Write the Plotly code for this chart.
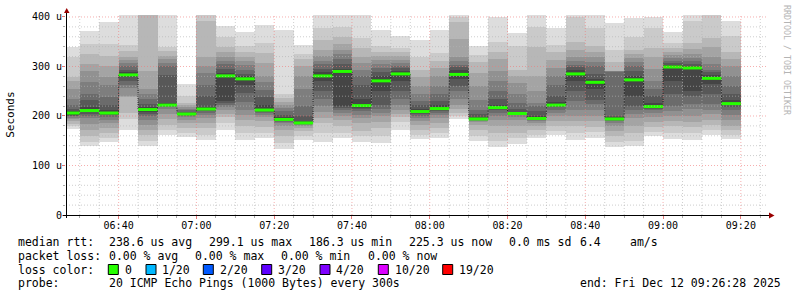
import pandas as pd
import plotly.graph_objects as go

# ---------------- data ----------------
col_start = ["06:25", "06:30", "06:35", "06:40", "06:45", "06:50", "06:55",
             "07:00", "07:05", "07:10", "07:15", "07:20", "07:25", "07:30",
             "07:35", "07:40", "07:45", "07:50", "07:55", "08:00", "08:05",
             "08:10", "08:15", "08:20", "08:25", "08:30", "08:35", "08:40",
             "08:45", "08:50", "08:55", "09:00", "09:05", "09:10", "09:15"]

median_us = [206, 211, 206, 283, 213, 222, 204, 214, 281, 275, 212, 193, 186, 281,
             290, 221, 271, 285, 209, 215, 284, 194, 217, 205, 195, 222, 285, 268,
             194, 273, 219, 299, 297, 276, 225]

# 20 sorted ping RTTs (microseconds) per 5-minute step
pings_us = [
    [174, 180, 184, 190, 193, 196, 199, 201, 203, 205, 207, 210, 214, 222, 235, 255, 270, 278, 320, 339],
    [140, 148, 160, 172, 183, 195, 201, 205, 208, 210, 212, 218, 232, 245, 268, 290, 305, 325, 345, 371],
    [147, 155, 165, 175, 185, 192, 198, 202, 204, 205, 207, 212, 222, 238, 262, 278, 300, 322, 345, 389],
    [171, 193, 206, 238, 240, 257, 262, 270, 278, 281, 285, 288, 293, 300, 307, 313, 320, 331, 344, 420],
    [139, 150, 162, 172, 182, 192, 200, 205, 209, 212, 214, 218, 225, 235, 245, 255, 290, 420, 450, 500],
    [162, 172, 182, 193, 205, 215, 218, 220, 221, 222, 223, 226, 283, 300, 307, 315, 322, 332, 340, 410],
    [157, 165, 175, 185, 192, 197, 200, 202, 203, 204, 205, 207, 209, 212, 215, 218, 222, 226, 240, 265],
    [151, 162, 175, 185, 195, 202, 207, 210, 212, 213, 215, 219, 240, 263, 287, 300, 320, 391, 404, 420],
    [172, 185, 198, 205, 213, 218, 222, 226, 230, 279, 283, 286, 295, 305, 312, 320, 330, 340, 360, 382],
    [151, 165, 180, 192, 203, 213, 229, 246, 262, 273, 277, 280, 285, 293, 304, 312, 320, 330, 341, 369],
    [155, 165, 178, 190, 198, 203, 207, 209, 211, 212, 213, 223, 238, 253, 268, 280, 307, 327, 347, 384],
    [133, 145, 160, 172, 180, 185, 188, 190, 191, 192, 194, 197, 203, 210, 216, 222, 229, 236, 245, 374],
    [151, 160, 170, 176, 180, 182, 184, 185, 185.5, 186, 187, 190, 200, 220, 255, 280, 300, 315, 325, 343],
    [147, 165, 185, 195, 208, 220, 235, 250, 270, 280, 284, 288, 295, 305, 312, 322, 334, 354, 378, 410],
    [155, 165, 180, 192, 200, 207, 213, 216, 220, 288, 291, 295, 305, 315, 325, 334, 345, 360, 380, 410],
    [147, 160, 170, 185, 195, 203, 210, 214, 217, 220, 222, 235, 263, 280, 293, 308, 320, 337, 357, 410],
    [145, 160, 175, 188, 200, 206, 215, 223, 250, 268, 274, 280, 288, 297, 305, 314, 322, 330, 341, 374],
    [172, 188, 198, 205, 213, 222, 235, 250, 270, 283, 287, 291, 297, 302, 308, 314, 322, 330, 337, 362],
    [153, 162, 172, 182, 190, 196, 201, 204, 207, 209, 210, 215, 222, 230, 245, 260, 278, 293, 320, 354],
    [155, 165, 175, 185, 195, 202, 207, 210, 213, 214, 216, 222, 230, 245, 260, 280, 297, 312, 327, 374],
    [194, 200, 206, 215, 223, 235, 250, 260, 275, 283, 287, 292, 298, 304, 312, 320, 355, 390, 400, 410],
    [149, 160, 172, 182, 187, 190, 192, 193, 193.5, 194, 195, 198, 205, 213, 233, 260, 287, 310, 324, 341],
    [138, 150, 165, 180, 192, 200, 207, 212, 215, 216, 218, 223, 235, 250, 270, 290, 315, 330, 350, 400],
    [144, 155, 165, 180, 192, 198, 202, 204, 204.5, 205, 206, 209, 215, 226, 245, 266, 280, 293, 341, 367],
    [155, 162, 172, 180, 186, 190, 192, 193, 194, 195, 196, 200, 210, 220, 226, 250, 280, 340, 380, 410],
    [162, 170, 180, 190, 200, 207, 213, 218, 221, 222, 224, 228, 240, 262, 280, 297, 314, 330, 344, 378],
    [152, 165, 180, 190, 200, 213, 230, 250, 270, 283, 287, 292, 298, 304, 312, 320, 334, 350, 400, 410],
    [155, 168, 178, 190, 200, 213, 225, 233, 255, 266, 270, 275, 285, 300, 310, 320, 330, 341, 378, 410],
    [137, 148, 160, 170, 180, 186, 190, 192, 193, 194, 195, 197, 200, 289, 290, 290.5, 291, 310, 334, 388],
    [139, 150, 165, 180, 195, 205, 213, 220, 240, 271, 275, 280, 290, 300, 310, 317, 325, 334, 360, 398],
    [159, 168, 178, 188, 198, 206, 212, 215, 217, 218, 220, 226, 240, 255, 270, 295, 320, 337, 378, 400],
    [153, 165, 180, 190, 200, 210, 220, 245, 270, 297, 301, 304, 308, 312, 318, 324, 330, 338, 347, 369],
    [152, 165, 178, 188, 200, 215, 225, 240, 250, 295, 299, 302, 306, 312, 318, 325, 335, 347, 391, 410],
    [162, 172, 182, 192, 205, 213, 225, 245, 265, 274, 277, 282, 288, 293, 305, 320, 340, 357, 410, 420],
    [153, 162, 172, 180, 192, 203, 212, 218, 222, 224, 226, 232, 245, 260, 280, 300, 315, 330, 361, 391],
]

y_tick_vals = [0, 100, 200, 300, 400]
y_tick_text = ["0", "100 u", "200 u", "300 u", "400 u"]

stats_rtt = [("median rtt:", 16), ("238.6 us avg", 107), ("299.1 us max", 207),
             ("186.3 us min", 307), ("225.3 us now", 407), ("0.0 ms sd", 507),
             ("6.4", 578), ("am/s", 628)]
stats_loss = [("packet loss:", 16), ("0.00 % avg", 107), ("0.00 % max", 193.3),
              ("0.00 % min", 279.3), ("0.00 % now", 366)]
loss_labels = ["0", "1/20", "2/20", "3/20", "4/20", "10/20", "19/20"]
loss_colors = ["#26ff00", "#00b8ff", "#0059ff", "#5e00ff", "#7e00ff", "#dd00ff", "#ff0000"]
loss_box_x = [108.3, 146, 203.3, 261.7, 320, 378.3, 442.7]

DAY = "2025-12-12 "
t_start = pd.Timestamp(DAY + "06:26:28")
t_end = pd.Timestamp(DAY + "09:26:28")
STEP = pd.Timedelta(minutes=5)

# ---------------- geometry helpers ----------------
W, H = 797, 297
L, R, T, B = 66, 31, 15, 82
PW, PH = W - L - R, H - T - B
Y_MAX = 404
FONT = "DejaVu Sans Mono"
MAJOR_GRID = "rgba(240,120,120,0.6)"
MINOR_GRID = "rgba(180,180,180,0.65)"


def px(x):
    return (x - L) / PW


def py(y):
    return (H - B - y) / PH


starts = [pd.Timestamp(DAY + s) for s in col_start]
mids = [s + STEP / 2 for s in starts]

fig = go.Figure()

# smoke layers (outer/lightest first, inner/darkest last)
half = 10
for i in range(half):
    g = int(round((half - 1 - i) * 190 / half + 50))
    color = f"rgb({g},{g},{g})"
    base = [p[i] for p in pings_us]
    height = [p[19 - i] - p[i] for p in pings_us]
    fig.add_trace(go.Bar(x=mids, y=height, base=base, width=STEP.total_seconds() * 1000,
                         marker=dict(color=color, line=dict(width=0)),
                         hoverinfo="skip", showlegend=False))

# dark median step line
step_x = starts + [starts[-1] + STEP]
step_y = median_us + [median_us[-1]]
fig.add_trace(go.Scatter(x=step_x, y=step_y, mode="lines", line_shape="hv",
                         line=dict(color="#202020", width=1, dash="1px,1px"),
                         hoverinfo="skip", showlegend=False))

# green median segments (0 loss colour)
gx, gy = [], []
for s, m in zip(starts, median_us):
    gx += [s, s + STEP, None]
    gy += [m, m, None]
fig.add_trace(go.Scatter(x=gx, y=gy, mode="lines",
                         line=dict(color=loss_colors[0], width=3),
                         hoverinfo="skip", showlegend=False))

shapes = []
# grid (drawn above the smoke like rrdtool)
t = pd.Timestamp(DAY + "06:30")
while t < t_end:
    major = (t.minute % 20 == 0)
    shapes.append(dict(type="line", xref="x", yref="y", x0=t, x1=t, y0=0, y1=Y_MAX,
                       layer="above",
                       line=dict(color=MAJOR_GRID if major else MINOR_GRID,
                                 width=1, dash="1px,2px")))
    t += STEP
for v in range(20, 401, 20):
    major = (v % 100 == 0)
    shapes.append(dict(type="line", xref="paper", yref="y", x0=0, x1=px(768), y0=v, y1=v,
                       layer="above",
                       line=dict(color=MAJOR_GRID if major else MINOR_GRID,
                                 width=1, dash="1px,2px")))

# axes lines and arrows
shapes.append(dict(type="line", xref="paper", yref="paper", x0=px(63), x1=px(771),
                   y0=py(215.5), y1=py(215.5), line=dict(color="black", width=1), layer="above"))
shapes.append(dict(type="line", xref="paper", yref="paper", x0=px(66.5), x1=px(66.5),
                   y0=py(218), y1=py(11), line=dict(color="black", width=1), layer="above"))
shapes.append(dict(type="path", xref="paper", yref="paper",
                   path=f"M {px(64)} {py(13)} L {px(69.5)} {py(13)} L {px(66.7)} {py(8)} Z",
                   fillcolor="#990000", line=dict(width=0), layer="above"))
shapes.append(dict(type="path", xref="paper", yref="paper",
                   path=f"M {px(769)} {py(212.5)} L {px(769)} {py(218.5)} L {px(774.5)} {py(215.5)} Z",
                   fillcolor="#990000", line=dict(width=0), layer="above"))

annotations = []


def text(s, x, y, size=11.5, color="black", anchor="left", angle=0):
    annotations.append(dict(text=s, x=px(x), y=py(y), xref="paper", yref="paper",
                            showarrow=False, xanchor=anchor, yanchor="middle",
                            textangle=angle,
                            font=dict(family=FONT, size=size, color=color)))


for s, x in stats_rtt:
    text(s, x, 242)
for s, x in stats_loss:
    text(s, x, 255.5)
text("loss color:", 16, 269.5)
for lab, col, bx in zip(loss_labels, loss_colors, loss_box_x):
    shapes.append(dict(type="rect", xref="paper", yref="paper",
                       x0=px(bx), x1=px(bx + 10), y0=py(264.5), y1=py(274.5),
                       fillcolor=col, line=dict(color="black", width=1)))
    text(lab, bx + 14.3, 269.5)
text("probe:", 16, 283)
text("20 ICMP Echo Pings (1000 Bytes) every 300s", 107, 283)
text("end: Fri Dec 12 09:26:28 2025", 578.3, 283)

text("Seconds", 10.3, 114.5, size=11, anchor="center", angle=-90)
text("RRDTOOL / TOBI OETIKER", 787, 60, size=8.3, color="#b4b4b4", anchor="center", angle=90)

fig.update_layout(
    width=W, height=H, autosize=False,
    margin=dict(l=L, r=R, t=T, b=B, pad=0),
    paper_bgcolor="white", plot_bgcolor="white",
    barmode="overlay", bargap=0, showlegend=False,
    shapes=shapes, annotations=annotations,
    xaxis=dict(type="date", range=[t_start, t_end], showgrid=False, zeroline=False,
               showline=False, tickformat="%H:%M", dtick=20 * 60 * 1000,
               tick0=DAY + "06:40", ticks="outside", ticklen=3,
               tickcolor="rgba(230,110,110,0.9)", ticklabelstandoff=-2,
               tickfont=dict(family=FONT, size=10, color="black"),
               minor=dict(dtick=5 * 60 * 1000, tick0=DAY + "06:30", ticks="outside",
                          ticklen=2, tickcolor="rgba(150,150,150,0.8)", showgrid=False)),
    yaxis=dict(range=[0, Y_MAX], showgrid=False, zeroline=False, showline=False,
               tickvals=y_tick_vals, ticktext=y_tick_text, ticks="outside", ticklen=3,
               tickcolor="rgba(230,110,110,0.9)", ticklabelstandoff=-2,
               tickfont=dict(family=FONT, size=10, color="black"),
               minor=dict(dtick=20, ticks="outside", ticklen=2,
                          tickcolor="rgba(150,150,150,0.8)", showgrid=False)),
)

fig.write_html("out.html")
